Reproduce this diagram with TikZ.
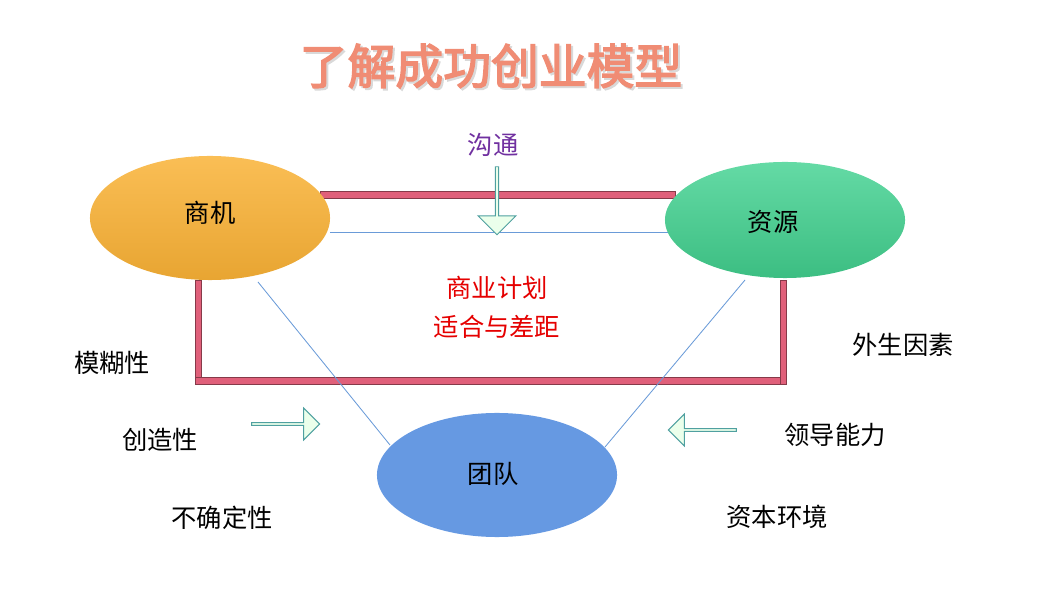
\documentclass[tikz,border=0pt]{standalone}
\usepackage{fontspec}
\setmainfont{Noto Sans CJK SC}
\newfontfamily\cjkb[FakeBold=3]{Noto Sans CJK SC}
\usetikzlibrary{shapes.arrows,shapes.geometric}
\definecolor{barred}{HTML}{E0607A}
\definecolor{thinb}{HTML}{6A9BD8}
\definecolor{arrowc}{HTML}{4FA0A0}
\definecolor{orT}{RGB}{250,190,85}
\definecolor{orB}{RGB}{232,165,50}
\definecolor{grT}{RGB}{100,218,165}
\definecolor{grB}{RGB}{60,190,130}
\definecolor{blu}{RGB}{102,153,226}
\definecolor{purp}{RGB}{112,48,160}
\definecolor{ttl}{HTML}{F08C74}
\begin{document}
\begin{tikzpicture}[x=0.025cm,y=-0.025cm,
 lbl/.style={font=\fontsize{18}{20}\selectfont},
 bar/.style={draw=barred!60!black,fill=barred,line width=0.3pt},
 thin/.style={draw=thinb,line width=0.6pt},
 fat/.style={draw=arrowc,fill=green!8,line width=0.7pt,single arrow,single arrow head extend=4pt,minimum height=1.7cm,minimum width=0.95cm,inner sep=0pt}]
\useasboundingbox (0,0) rectangle (1060,596);
\node (title) at (493,68) {\cjkb\fontsize{34}{36}\selectfont\textcolor{black!15}{了解成功创业模型}};
\node (title2) at (491,66) {\cjkb\fontsize{34}{36}\selectfont\textcolor{ttl}{了解成功创业模型}};
% bars
\filldraw[bar] (320,191) rectangle (675,198);
\filldraw[bar] (195,280) rectangle (201,384);
\filldraw[bar] (195,377) rectangle (786,384);
\filldraw[bar] (780,280) rectangle (786,384);
% ellipses
\node[ellipse,minimum width=6cm,minimum height=3.1cm,top color=orT,bottom color=orB,draw=none] (sj) at (210,218) {};
\node[ellipse,minimum width=6cm,minimum height=2.9cm,top color=grT,bottom color=grB,draw=none] (zy) at (785,220) {};
\node[ellipse,minimum width=6cm,minimum height=3.1cm,fill=blu,draw=none] (td) at (497,475) {};
\node[lbl] at (210,213) {商机};
\node[lbl] at (773,222) {资源};
\node[lbl] at (493,474) {团队};
% thin lines
\coordinate (a1) at (330,232); \coordinate (a2) at (668,232);
\draw[thin] (a1) -- (a2);
\coordinate (b1) at (258,282); \coordinate (b2) at (390,445);
\draw[thin] (b1) -- (b2);
\coordinate (c1) at (745,280); \coordinate (c2) at (605,447);
\draw[thin] (c1) -- (c2);
% arrows
\node[fat,rotate=-90] (down) at (497,200) {};
\node[fat,minimum width=0.8cm] (right) at (285,424) {};
\node[fat,minimum width=0.8cm,shape border rotate=180] (left) at (703,430) {};
% texts
\node[lbl,text=purp] at (493,145) {沟通};
\node[lbl,text=red!90!black] at (497,288) {商业计划};
\node[lbl,text=red!90!black] at (497,327) {适合与差距};
\node[lbl] at (112,363) {模糊性};
\node[lbl] at (160,440) {创造性};
\node[lbl] at (222,518) {不确定性};
\node[lbl] at (903,345) {外生因素};
\node[lbl] at (835,435) {领导能力};
\node[lbl] at (777,517) {资本环境};
\end{tikzpicture}
\end{document}
